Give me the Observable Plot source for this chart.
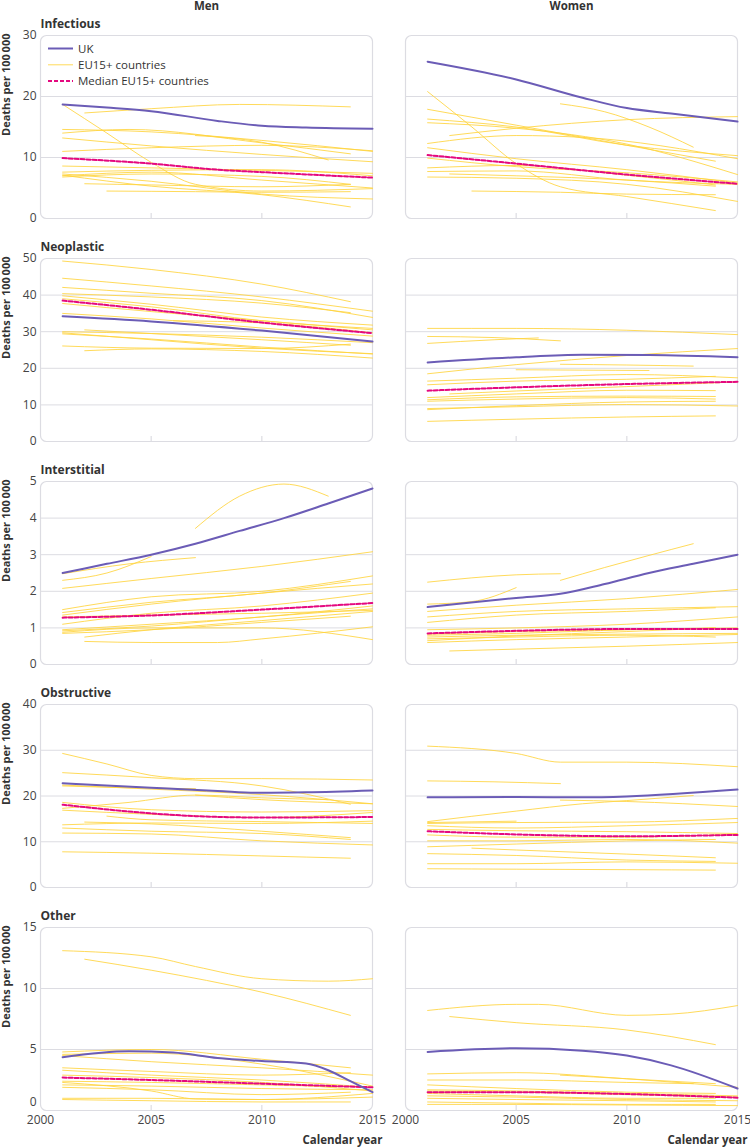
<!DOCTYPE html>
<html>
<head>
<meta charset="utf-8">
<script src="https://cdn.jsdelivr.net/npm/d3@7"></script>
<script src="https://cdn.jsdelivr.net/npm/@observablehq/plot@0.6"></script>
<style>
  html, body { margin: 0; padding: 0; background: #fff; }
  #chart { position: relative; width: 750px; height: 1148px; font-family: "Open Sans", sans-serif; }
</style>
</head>
<body>
<div id="chart"></div>
<script>
// ---------- DATA ----------
const causes = ["Infectious", "Neoplastic", "Interstitial", "Obstructive", "Other"];
const sexes = ["Men", "Women"];
const yMax = [30, 50, 5, 40, 15];
const yTicks = [[0, 10, 20, 30], [0, 10, 20, 30, 40, 50], [0, 1, 2, 3, 4, 5], [0, 10, 20, 30, 40], [0, 5, 10, 15]];
const xTicks = [2000, 2005, 2010, 2015];
const seriesNames = ["UK", "EU15+ countries", "Median EU15+ countries"];

// Infectious
const infMenUK = [[2001,18.7],[2003,18.2],[2005,17.6],[2008,16.0],[2010,15.2],[2012,14.9],[2015,14.7]];
const infMenMed = [[2001,9.9],[2005,9.0],[2008,8.0],[2010,7.6],[2015,6.7]];
const infMenEU = [
 [[2002,17.3],[2005,18.0],[2009,18.7],[2014,18.3]],
 [[2001,18.7],[2003,14.0],[2005,9.2],[2007,5.6],[2010,4.5],[2015,4.9]],
 [[2001,14.6],[2005,14.2],[2010,12.8],[2015,11.0]],
 [[2001,14.0],[2004,14.6],[2010,12.4],[2014,10.6]],
 [[2001,13.2],[2005,11.9],[2010,10.5],[2015,9.3]],
 [[2001,11.0],[2005,11.6],[2010,12.0],[2015,11.1]],
 [[2007,13.6],[2010,12.5],[2013,9.6]],
 [[2001,8.6],[2005,8.3],[2010,7.9],[2015,7.4]],
 [[2001,7.6],[2005,7.9],[2010,8.0],[2015,7.0]],
 [[2001,7.0],[2005,7.6],[2010,6.3],[2015,5.0]],
 [[2001,6.8],[2005,7.3],[2010,6.9],[2014,5.6]],
 [[2002,5.7],[2005,5.5],[2010,5.2],[2014,5.6]],
 [[2003,4.5],[2007,4.4],[2010,4.3],[2014,4.4]],
 [[2001,7.1],[2005,5.3],[2010,3.9],[2014,1.9]],
 [[2001,7.3],[2005,6.1],[2010,4.0],[2015,3.2]]
];
const infWomUK = [[2001,25.7],[2005,22.8],[2008,19.8],[2010,18.1],[2012,17.2],[2015,15.9]];
const infWomMed = [[2001,10.4],[2005,9.0],[2010,7.2],[2015,5.7]];
const infWomEU = [
 [[2001,20.8],[2003,15.0],[2005,9.0],[2007,5.2],[2010,3.6],[2014,1.3]],
 [[2001,17.9],[2005,15.3],[2010,12.0],[2014,9.4]],
 [[2001,16.3],[2005,15.0],[2010,12.0],[2015,10.3]],
 [[2001,15.7],[2005,14.8],[2010,12.2],[2015,7.2]],
 [[2002,13.6],[2005,14.8],[2010,16.2],[2015,16.7]],
 [[2007,18.8],[2009,17.5],[2011,15.0],[2013,11.7]],
 [[2001,12.3],[2005,13.6],[2008,13.3],[2015,9.8]],
 [[2001,11.6],[2005,9.8],[2010,8.0],[2015,5.8]],
 [[2001,9.9],[2005,8.5],[2010,7.5],[2015,6.0]],
 [[2001,8.3],[2005,8.7],[2010,7.1],[2014,5.5]],
 [[2001,7.7],[2005,7.8],[2010,6.3],[2015,5.6]],
 [[2002,7.3],[2005,7.0],[2010,6.3],[2014,5.3]],
 [[2001,6.8],[2005,6.6],[2010,5.6],[2015,2.8]],
 [[2003,4.5],[2007,4.3],[2010,4.0],[2014,3.9]]
];

// Neoplastic
const neoMenUK = [[2001,34.2],[2005,32.8],[2010,30.3],[2015,27.3]];
const neoMenMed = [[2001,38.5],[2005,36.0],[2010,32.5],[2015,29.6]];
const neoMenEU = [
 [[2001,49.3],[2005,47.0],[2010,43.0],[2014,38.2]],
 [[2001,44.6],[2005,42.5],[2010,39.5],[2015,35.6]],
 [[2001,42.1],[2005,40.5],[2010,38.5],[2015,33.9]],
 [[2001,40.4],[2005,39.5],[2010,37.8],[2014,35.2]],
 [[2001,39.8],[2005,37.5],[2010,34.0],[2015,31.8]],
 [[2001,39.0],[2005,36.8],[2010,33.0],[2015,30.9]],
 [[2001,37.7],[2005,35.5],[2010,33.0],[2015,30.5]],
 [[2006,33.0],[2010,32.4],[2015,29.7]],
 [[2001,35.0],[2005,33.5],[2010,31.0],[2015,28.8]],
 [[2001,30.0],[2005,29.5],[2010,28.5],[2015,27.0]],
 [[2002,30.5],[2005,29.5],[2010,27.8],[2014,26.3]],
 [[2001,29.4],[2005,28.0],[2010,25.8],[2015,23.9]],
 [[2001,26.1],[2005,25.5],[2010,25.4],[2014,26.6]],
 [[2002,24.8],[2005,25.3],[2010,24.6],[2015,22.8]],
 [[2001,29.7],[2005,27.8],[2010,25.5],[2015,24.0]]
];
const neoWomUK = [[2001,21.6],[2005,23.0],[2008,23.7],[2011,23.6],[2015,23.0]];
const neoWomMed = [[2001,13.9],[2005,14.8],[2010,15.7],[2015,16.3]];
const neoWomEU = [
 [[2001,30.9],[2005,30.9],[2010,30.4],[2015,29.2]],
 [[2001,28.7],[2004,28.4],[2007,27.5]],
 [[2001,26.8],[2004,27.8],[2006,28.3]],
 [[2001,18.5],[2005,21.0],[2010,23.5],[2015,25.4]],
 [[2007,21.1],[2010,20.9],[2013,20.6]],
 [[2005,19.6],[2008,19.5],[2011,19.4]],
 [[2001,16.5],[2005,17.3],[2010,18.3],[2015,17.4]],
 [[2001,15.5],[2005,16.5],[2010,17.0],[2014,17.8]],
 [[2002,13.0],[2005,13.8],[2010,15.0],[2015,16.3]],
 [[2001,12.0],[2005,13.0],[2010,14.0],[2014,13.9]],
 [[2001,11.4],[2005,12.2],[2010,12.4],[2014,12.3]],
 [[2001,11.0],[2005,11.6],[2010,12.0],[2014,11.6]],
 [[2001,9.0],[2005,9.5],[2010,10.1],[2015,9.7]],
 [[2001,8.7],[2005,9.8],[2010,10.8],[2014,11.0]],
 [[2001,5.5],[2005,6.1],[2010,6.7],[2014,7.0]]
];

// Interstitial
const intMenUK = [[2001,2.5],[2003,2.75],[2005,3.0],[2007,3.3],[2009,3.65],[2011,4.0],[2013,4.4],[2015,4.81]];
const intMenMed = [[2001,1.28],[2005,1.34],[2010,1.5],[2015,1.68]];
const intMenEU = [
 [[2007,3.72],[2009,4.6],[2011,4.93],[2013,4.6]],
 [[2001,2.48],[2004,2.75],[2007,2.92]],
 [[2001,2.3],[2003,2.5],[2005,2.95]],
 [[2001,2.08],[2005,2.35],[2010,2.68],[2015,3.08]],
 [[2001,1.5],[2005,1.85],[2010,2.0],[2015,2.42]],
 [[2001,1.42],[2005,1.7],[2010,1.95],[2014,2.27]],
 [[2001,1.35],[2005,1.65],[2010,1.95],[2015,2.2]],
 [[2001,1.1],[2005,1.4],[2010,1.6],[2015,1.95]],
 [[2001,0.95],[2005,1.1],[2010,1.3],[2015,1.6]],
 [[2001,0.92],[2005,1.05],[2010,1.3],[2015,1.52]],
 [[2001,0.85],[2005,0.95],[2010,1.15],[2014,1.32]],
 [[2001,0.88],[2005,1.0],[2010,1.0],[2015,0.68]],
 [[2002,0.75],[2005,0.95],[2010,1.2],[2015,1.45]],
 [[2002,0.63],[2005,0.6],[2008,0.6],[2010,0.7],[2015,1.03]],
 [[2001,1.3],[2005,1.35],[2010,1.4],[2015,1.48]]
];
const intWomUK = [[2001,1.57],[2005,1.82],[2007,1.93],[2009,2.2],[2011,2.5],[2013,2.75],[2015,3.0]];
const intWomMed = [[2001,0.85],[2005,0.92],[2010,0.97],[2015,0.97]];
const intWomEU = [
 [[2001,2.25],[2005,2.45],[2007,2.48]],
 [[2007,2.3],[2009,2.65],[2011,2.98],[2013,3.3]],
 [[2001,1.65],[2003,1.72],[2005,2.1]],
 [[2001,1.45],[2005,1.62],[2010,1.8],[2015,2.05]],
 [[2001,1.3],[2005,1.45],[2010,1.52],[2015,1.58]],
 [[2001,1.15],[2005,1.35],[2010,1.45],[2014,1.55]],
 [[2001,0.95],[2005,1.0],[2010,1.1],[2015,1.3]],
 [[2001,0.83],[2005,0.9],[2010,0.95],[2015,1.0]],
 [[2001,0.8],[2005,0.85],[2010,0.95],[2014,1.0]],
 [[2001,0.75],[2005,0.8],[2010,0.83],[2015,0.85]],
 [[2001,0.7],[2005,0.75],[2010,0.8],[2014,0.75]],
 [[2001,0.6],[2005,0.68],[2010,0.75],[2015,0.82]],
 [[2002,0.37],[2005,0.42],[2010,0.5],[2015,0.6]],
 [[2001,0.65],[2005,0.78],[2010,0.9],[2014,1.0]]
];

// Obstructive
const obsMenUK = [[2001,22.8],[2005,21.8],[2008,21.1],[2010,20.7],[2012,20.8],[2015,21.2]];
const obsMenMed = [[2001,18.1],[2005,16.2],[2007,15.6],[2010,15.3],[2015,15.4]];
const obsMenEU = [
 [[2001,29.3],[2003,27.0],[2005,24.5],[2007,23.8],[2010,23.8],[2015,23.5]],
 [[2001,25.1],[2005,24.0],[2010,22.2],[2014,18.2]],
 [[2001,22.4],[2005,21.5],[2010,20.3],[2015,18.3]],
 [[2001,22.2],[2004,21.8],[2007,21.6]],
 [[2001,17.3],[2004,18.6],[2007,20.2],[2010,19.6],[2013,19.2]],
 [[2007,20.2],[2010,19.2],[2015,18.3]],
 [[2001,16.9],[2005,16.0],[2010,15.3],[2015,16.4]],
 [[2003,15.6],[2005,14.8],[2010,14.4],[2015,14.0]],
 [[2001,13.7],[2005,14.1],[2010,14.0],[2015,14.5]],
 [[2002,14.3],[2005,13.9],[2010,12.3],[2014,10.9]],
 [[2001,13.0],[2005,12.3],[2010,11.8],[2014,10.5]],
 [[2001,11.9],[2005,11.7],[2010,10.2],[2015,9.3]],
 [[2001,7.8],[2005,7.5],[2010,6.9],[2014,6.4]],
 [[2001,18.6],[2005,17.0],[2010,16.5],[2015,16.8]]
];
const obsWomUK = [[2001,19.7],[2005,19.8],[2008,19.7],[2010,19.9],[2015,21.4]];
const obsWomMed = [[2001,12.3],[2005,11.6],[2010,11.2],[2015,11.5]];
const obsWomEU = [
 [[2001,30.9],[2005,29.3],[2007,27.4],[2010,27.4],[2015,26.4]],
 [[2001,23.3],[2004,23.1],[2007,22.7]],
 [[2001,14.4],[2005,16.7],[2008,18.3],[2010,19.0],[2013,20.1]],
 [[2007,19.1],[2010,18.8],[2015,17.7]],
 [[2001,14.2],[2005,14.5]],
 [[2001,14.0],[2005,14.2],[2010,14.3],[2015,15.1]],
 [[2001,13.5],[2005,13.0],[2010,13.5],[2015,14.2]],
 [[2001,12.7],[2005,12.4],[2010,12.2],[2015,11.8]],
 [[2001,11.5],[2005,11.0],[2010,11.0],[2015,11.7]],
 [[2001,10.2],[2005,10.2],[2010,10.5],[2015,9.7]],
 [[2001,8.9],[2005,9.5],[2010,10.2],[2014,10.5]],
 [[2003,8.6],[2005,8.2],[2010,7.3],[2014,6.5]],
 [[2001,7.4],[2005,7.0],[2010,6.0],[2014,5.7]],
 [[2001,5.2],[2005,5.2],[2010,5.6],[2015,5.3]],
 [[2001,4.1],[2005,4.0],[2010,3.9],[2014,3.8]]
];

// Other
const othMenUK = [[2001,4.37],[2004,4.86],[2006,4.75],[2008,4.3],[2010,4.05],[2012,3.85],[2013,3.3],[2014,2.4],[2015,1.5]];
const othMenMed = [[2001,2.7],[2005,2.5],[2010,2.2],[2015,1.9]];
const othMenEU = [
 [[2001,13.1],[2005,12.6],[2007,11.8],[2010,10.8],[2013,10.6],[2015,10.8]],
 [[2002,12.4],[2005,11.5],[2010,9.7],[2014,7.8]],
 [[2001,4.8],[2005,5.0],[2010,4.2],[2014,3.5]],
 [[2001,4.6],[2005,4.7],[2010,3.8],[2015,2.0]],
 [[2001,4.5],[2005,4.0],[2010,3.5],[2015,2.9]],
 [[2001,3.5],[2005,3.2],[2010,2.9],[2014,3.1]],
 [[2001,3.3],[2005,2.9],[2010,2.5],[2015,1.9]],
 [[2001,2.9],[2005,2.7],[2010,2.3],[2015,1.6]],
 [[2001,2.4],[2005,2.3],[2010,2.1],[2015,1.9]],
 [[2001,2.3],[2005,1.6],[2007,0.95],[2010,0.9],[2015,1.4]],
 [[2001,1.9],[2005,1.7],[2010,1.3],[2014,1.5]],
 [[2001,1.0],[2005,1.0],[2010,0.9],[2015,1.1]],
 [[2001,0.9],[2005,0.8],[2010,0.7],[2014,0.7]],
 [[2001,2.1],[2005,2.0],[2010,1.8],[2015,1.7]]
];
const othWomUK = [[2001,4.8],[2005,5.1],[2008,4.9],[2010,4.5],[2012,3.7],[2015,1.8]];
const othWomMed = [[2001,1.5],[2005,1.5],[2010,1.35],[2015,1.05]];
const othWomEU = [
 [[2001,8.2],[2005,8.7],[2006,8.7],[2010,7.8],[2012,7.9],[2015,8.6]],
 [[2002,7.7],[2005,7.2],[2010,6.6],[2014,5.4]],
 [[2001,3.0],[2005,3.1],[2010,2.6],[2015,1.9]],
 [[2007,2.9],[2010,2.6],[2014,2.2]],
 [[2001,2.5],[2005,2.5],[2010,2.3],[2013,2.2]],
 [[2001,2.1],[2005,1.8],[2010,1.5],[2014,1.4]],
 [[2001,1.7],[2005,1.6],[2010,1.4],[2015,1.2]],
 [[2001,1.6],[2005,1.5],[2010,1.3],[2015,1.1]],
 [[2001,1.4],[2005,1.2],[2010,1.0],[2014,1.0]],
 [[2001,1.2],[2005,1.1],[2010,0.9],[2015,0.8]],
 [[2001,1.0],[2005,0.9],[2010,0.8],[2014,0.7]],
 [[2001,0.7],[2005,0.6],[2010,0.5],[2014,0.5]],
 [[2001,0.5],[2005,0.5],[2010,0.45],[2015,0.4]]
];

const panels = [
  ["Infectious", "Men", infMenUK, infMenMed, infMenEU],
  ["Infectious", "Women", infWomUK, infWomMed, infWomEU],
  ["Neoplastic", "Men", neoMenUK, neoMenMed, neoMenEU],
  ["Neoplastic", "Women", neoWomUK, neoWomMed, neoWomEU],
  ["Interstitial", "Men", intMenUK, intMenMed, intMenEU],
  ["Interstitial", "Women", intWomUK, intWomMed, intWomEU],
  ["Obstructive", "Men", obsMenUK, obsMenMed, obsMenEU],
  ["Obstructive", "Women", obsWomUK, obsWomMed, obsWomEU],
  ["Other", "Men", othMenUK, othMenMed, othMenEU],
  ["Other", "Women", othWomUK, othWomMed, othWomEU]
];

// ---------- LONG TABLE ----------
const table = [];
for (const [cause, sex, uk, med, eu] of panels) {
  eu.forEach((line, j) => line.forEach(([year, value]) =>
    table.push({cause, sex, group: "eu", id: `${cause}-${sex}-${j}`, year, value})));
  med.forEach(([year, value]) => table.push({cause, sex, group: "median", id: `${cause}-${sex}-med`, year, value}));
  uk.forEach(([year, value]) => table.push({cause, sex, group: "uk", id: `${cause}-${sex}-uk`, year, value}));
}

// ---------- STYLE ----------
const C_UK = "#6b5cb6", C_EU = "#ffd33d", C_MED = "#e4097f";
const GRID = "#dcdce2";
const INK = "#333";
const FONT = "'Open Sans', sans-serif";

const chart = document.getElementById("chart");
const rowTop = 223;      // vertical period of rows
const panelH = 183;

causes.forEach((cause, i) => {
  const last = i === causes.length - 1;
  const first = i === 0;
  const rows = table.filter(d => d.cause === cause);
  const mb = last ? 38 : 5;
  const axisStyle = {tickFormat: d => String(d), tickSize: 0, tickPadding: 4, label: null, fontSize: 12, fill: "#444", fontFamily: FONT};
  const marks = [
    Plot.frame({stroke: GRID, strokeWidth: 1.2, rx: 6, fill: "white"}),
    Plot.gridY(yTicks[i].filter(t => t > 0 && t < yMax[i]), {stroke: GRID, strokeOpacity: 1, strokeWidth: 1}),
    Plot.tickX(xTicks.slice(1, -1), {x: d => d, stroke: GRID, strokeWidth: 1.2, insetTop: panelH - 5}),
    Plot.axisY({...axisStyle, ticks: last ? yTicks[i].filter(t => t > 0) : yTicks[i]}),
    Plot.lineY(rows.filter(d => d.group === "eu"), {x: "year", y: "value", z: "id", fx: "sex", stroke: C_EU, strokeWidth: 1, strokeOpacity: 0.85, curve: "monotone-x"}),
    Plot.lineY(rows.filter(d => d.group === "median"), {x: "year", y: "value", z: "id", fx: "sex", stroke: C_MED, strokeWidth: 2, strokeDasharray: "4,2", curve: "monotone-x"}),
    Plot.lineY(rows.filter(d => d.group === "uk"), {x: "year", y: "value", z: "id", fx: "sex", stroke: C_UK, strokeWidth: 2, curve: "monotone-x"}),
    Plot.text([cause], {fx: () => "Men", text: d => d, frameAnchor: "top-left", textAnchor: "start", lineAnchor: "middle", dy: -11, fontWeight: "bold", fontSize: 12, fill: INK, fontFamily: FONT}),
    Plot.text(["Deaths per 100\u2009000"], {fx: () => "Men", text: d => d, frameAnchor: "top-left", rotate: -90, textAnchor: "end", lineAnchor: "middle", dx: -34, dy: -2, fontWeight: "bold", fontSize: 11, fill: INK, fontFamily: FONT})
  ];
  if (first) {
    marks.push(Plot.text(sexes, {fx: d => d, text: d => d, frameAnchor: "top", lineAnchor: "middle", dy: -29, fontWeight: "bold", fontSize: 11.5, fill: INK, fontFamily: FONT}));
  }
  if (last) {
    marks.push(Plot.axisY({...axisStyle, ticks: [0], dy: -8}));
    marks.push(Plot.axisX({ticks: xTicks, tickFormat: d => String(d), tickSize: 0, tickPadding: 5, label: null, fontSize: 12, fill: "#444", fontFamily: FONT}));
    marks.push(Plot.text(sexes.map(() => "Calendar year"), {fx: (d, k) => sexes[k], text: d => d, frameAnchor: "bottom-right", textAnchor: "end", lineAnchor: "middle", dx: 10, dy: 30, fontWeight: "bold", fontSize: 11.5, fill: INK, fontFamily: FONT}));
  }
  const svg = Plot.plot({
    width: 750,
    height: 35 + panelH + mb,
    marginLeft: 40, marginRight: 13, marginTop: 35, marginBottom: mb,
    style: {fontFamily: FONT, background: "transparent", overflow: "visible"},
    fx: {domain: sexes, paddingInner: 33 / 365, paddingOuter: 0, round: false, axis: null, label: null},
    x: {domain: [2000, 2015], axis: null},
    y: {domain: [0, yMax[i]], axis: null},
    marks
  });
  svg.style.position = "absolute";
  svg.style.left = "0px";
  svg.style.top = (i * rowTop) + "px";
  chart.appendChild(svg);
});

// ---------- LEGEND ----------
const ns = "http://www.w3.org/2000/svg";
const leg = document.createElementNS(ns, "svg");
leg.setAttribute("width", 200);
leg.setAttribute("height", 60);
leg.style.position = "absolute";
leg.style.left = "40px";
leg.style.top = "35px";
const legendStyles = [
  {stroke: C_UK, width: 2, dash: null, opacity: 1},
  {stroke: C_EU, width: 1, dash: null, opacity: 0.85},
  {stroke: C_MED, width: 2, dash: "4,2", opacity: 1}
];
seriesNames.forEach((name, k) => {
  const yy = 13.5 + k * 16.3;
  const ln = document.createElementNS(ns, "line");
  ln.setAttribute("x1", 8); ln.setAttribute("x2", 33);
  ln.setAttribute("y1", yy); ln.setAttribute("y2", yy);
  ln.setAttribute("stroke", legendStyles[k].stroke);
  ln.setAttribute("stroke-width", legendStyles[k].width);
  ln.setAttribute("stroke-opacity", legendStyles[k].opacity);
  if (legendStyles[k].dash) ln.setAttribute("stroke-dasharray", legendStyles[k].dash);
  leg.appendChild(ln);
  const tx = document.createElementNS(ns, "text");
  tx.setAttribute("x", 38); tx.setAttribute("y", yy);
  tx.setAttribute("dy", "0.35em");
  tx.setAttribute("font-size", 11.5);
  tx.setAttribute("font-family", FONT);
  tx.setAttribute("fill", INK);
  tx.textContent = name;
  leg.appendChild(tx);
});
chart.appendChild(leg);
</script>
</body>
</html>
